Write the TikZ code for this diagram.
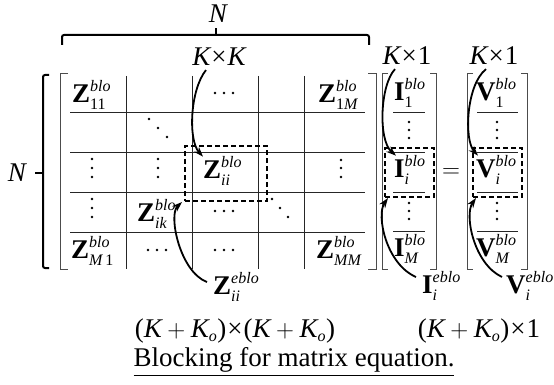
\documentclass[tikz,border=0pt]{standalone}
\usepackage{fontspec}
\usepackage{amsmath}
\setmainfont{Liberation Serif}
\DeclareMathSizes{27}{27}{16}{12}
\usetikzlibrary{arrows.meta}
\newcommand\mi[1]{\text{\itshape #1}}
\newcommand\tms{\text{\kern1pt×\kern1pt}}
\newcommand\blk[3]{$\text{\bfseries #1}^{\mi{#2}}_{#3}$}
\tikzset{
  every node/.style={font=\fontsize{27}{31}\selectfont, inner sep=0pt},
  gridline/.style={line width=0.9pt, black!85},
  brk/.style={line width=0.8pt, black!70},
  bigbrace/.style={line width=2pt, rounded corners=2pt},
  dbox/.style={draw, line width=2pt, dash pattern=on 5pt off 3pt, minimum width=#1, minimum height=49pt},
  arr/.style={line width=1.8pt, -{Stealth[length=10pt,width=7pt]}},
}
\begin{document}
\begin{tikzpicture}[x=1pt,y=-1pt]
\useasboundingbox (0,0) rectangle (554,385);
% top brace
\node (ntop) at (218,14) {$\mi{N}$};
\draw[bigbrace] (62,45) -- (62,35) -- (369,35) -- (369,45);
\draw[line width=2pt] (216,35) -- (216,28);
% left brace
\node (nleft) at (17,173) {$\mi{N}$};
\draw[bigbrace] (49,75) -- (43,75) -- (43,268) -- (49,268);
\draw[line width=2pt] (43,173) -- (35,173);
% Z matrix brackets
\draw[brk] (68,73) -- (60,73) -- (60,269) -- (68,269);
\draw[brk] (368,73) -- (376,73) -- (376,269) -- (368,269);
% I brackets
\draw[brk] (388,73) -- (382,73) -- (382,269) -- (388,269);
\draw[brk] (430,73) -- (436,73) -- (436,269) -- (430,269);
% V brackets
\draw[brk] (473,73) -- (467,73) -- (467,269) -- (473,269);
\draw[brk] (521,73) -- (527,73) -- (527,269) -- (521,269);
% grid
\foreach \y in {112,152,192,232} \draw[gridline] (70,\y) -- (365,\y);
\foreach \x in {126,192,258,304} \draw[gridline] (\x,76) -- (\x,269);
\foreach \y in {112,152,192,231} {
  \draw[gridline] (393,\y) -- (425,\y);
  \draw[gridline] (477,\y) -- (518,\y);
}
% dots
\foreach \p in {(215,93),(224,93),(233,93),
  (149,119),(158,128),(167,137),
  (92,159),(92,168),(92,177),
  (158,159),(158,168),(158,177),
  (341,160),(341,168),(341,177),
  (92,199),(92,208),(92,217),
  (215,211),(224,211),(233,211),
  (272,199),(280,208),(288,217),
  (148,250),(157,250),(166,250),
  (215,250),(224,250),(233,250),
  (409,122),(409,130),(409,138),(409,203),(409,211),(409,219),
  (497,122),(497,130),(497,138),(497,203),(497,211),(497,219)}
  \fill \p circle (1.3pt);
% Z entries
\node[anchor=west] (z11) at (72,95) {\blk{Z}{blo}{\text{11}}};
\node[anchor=west] (z1m) at (318,95) {\blk{Z}{blo}{\text{1}\mi{M}}};
\node[anchor=west] (zii) at (203,171) {\blk{Z}{blo}{\mi{ii}}};
\node[anchor=west] (zik) at (137,214) {\blk{Z}{blo}{\mi{ik}}};
\node[anchor=west] (zm1) at (71,251) {\blk{Z}{blo}{\mi{M}\,\text{1}}};
\node[anchor=west] (zmm) at (316,251) {\blk{Z}{blo}{\mi{MM}}};
% I entries
\node[anchor=west] (i1) at (394,93) {\blk{I}{blo}{\text{1}}};
\node[anchor=west] (ii) at (394,170) {\blk{I}{blo}{\mi{i}}};
\node[anchor=west] (im) at (394,249) {\blk{I}{blo}{\mi{M}}};
% V entries
\node[anchor=west] (v1) at (476,93) {\blk{V}{blo}{\text{1}}};
\node[anchor=west] (vi) at (476,170) {\blk{V}{blo}{\mi{i}}};
\node[anchor=west] (vm) at (476,249) {\blk{V}{blo}{\mi{M}}};
\node (eq) at (451,173) {$=$};
% dashed boxes
\node[dbox=82pt, minimum height=55pt] (zbox) at (226,173.5) {};
\node[dbox=49pt] (ibox) at (409.5,172.5) {};
\node[dbox=49pt] (vbox) at (497.5,172.5) {};
% size labels
\node (kk) at (219,57) {$\mi{K}\tms\mi{K}$};
\node (k1i) at (407,56) {$\mi{K}\tms\text{1}$};
\node (k1v) at (494,56) {$\mi{K}\tms\text{1}$};
% eblo labels
\node[anchor=west] (zeblo) at (213,287) {\blk{Z}{eblo}{\mi{ii}}};
\node[anchor=west] (ieblo) at (422,286) {\blk{I}{eblo}{\mi{i}}};
\node[anchor=west] (veblo) at (506,286) {\blk{V}{eblo}{\mi{i}}};
% arrows
\draw[arr] ([xshift=-13pt,yshift=-4pt]kk.south) .. controls (190,90) and (188,140) .. (zii.north west);
\draw[arr] ([xshift=-12pt,yshift=-4pt]k1i.south) .. controls (380,85) and (378,140) .. ([xshift=2pt]ii.north west);
\draw[arr] ([xshift=-8pt,yshift=-4pt]k1v.south) .. controls (466,85) and (464,140) .. ([xshift=2pt]vi.north west);
\draw[arr] ([xshift=-6pt,yshift=5pt]zeblo.west) .. controls (180,272) and (168,215) .. ([xshift=-2pt]zbox.south west);
\draw[arr] ([xshift=-6pt,yshift=9pt]ieblo.west) .. controls (386,264) and (376,215) .. ([xshift=4pt]ibox.south west);
\draw[arr] ([xshift=-4pt,yshift=9pt]veblo.west) .. controls (474,264) and (464,215) .. ([xshift=4pt]vbox.south west);
% bottom texts
\node (sz1) at (235,331) {\text{(}$\mi{K}+\mi{K}_{\mi{o}}$\text{)}$\tms$\text{(}$\mi{K}+\mi{K}_{\mi{o}}$\text{)}};
\node (sz2) at (479,331) {\text{(}$\mi{K}+\mi{K}_{\mi{o}}$\text{)}$\tms$1};
\node (cap) at (294,362) {\underline{Blocking for matrix equation.}};
\end{tikzpicture}
\end{document}
